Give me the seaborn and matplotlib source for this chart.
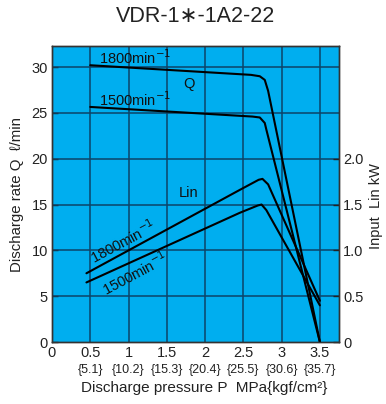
import matplotlib
matplotlib.use("Agg")
import matplotlib.pyplot as plt
import seaborn as sns
import pandas as pd

sns.set_theme(style="white")
plt.rcParams['font.family'] = ['Liberation Sans', 'DejaVu Sans']

# Discharge rate Q (l/min)
q1800_p = [0.5, 2.6, 2.715, 2.78, 2.824, 3.5]
q1800_v = [30.2, 29.15, 29.0, 28.6, 27.4, 0.0]
q1500_p = [0.5, 2.62, 2.715, 2.78, 2.80, 3.5]
q1500_v = [25.65, 24.6, 24.5, 23.9, 23.2, 0.0]
# Input Lin (kW)
lin1800_p = [0.45, 2.454, 2.70, 2.75, 2.824, 3.5]
lin1800_v = [0.75, 1.66, 1.77, 1.78, 1.72, 0.45]
lin1500_p = [0.45, 2.454, 2.69, 2.738, 2.80, 3.5]
lin1500_v = [0.65, 1.41, 1.49, 1.50, 1.44, 0.40]

xticks = [0, 0.5, 1, 1.5, 2, 2.5, 3, 3.5]
xtick_kgf = ["", "{5.1}", "{10.2}", "{15.3}", "{20.4}", "{25.5}", "{30.6}", "{35.7}"]
yticks_left = [0, 5, 10, 15, 20, 25, 30]
yticks_right = [0, 0.5, 1.0, 1.5, 2.0]
yticks_right_lbl = ["0", "0.5", "1.0", "1.5", "2.0"]

fig = plt.figure(figsize=(3.86, 4.04), dpi=100)
ax = fig.add_axes([52/386, 1-342/404, 287/386, 296/404])
ax.set_facecolor("#00AEEF")
grid_c = "#0d4468"
for x in xticks[1:]:
    ax.axvline(x, color=grid_c, lw=1.1, zorder=1)
for y in yticks_left[1:]:
    ax.axhline(y, color=grid_c, lw=1.1, zorder=1)

dq1 = pd.DataFrame({"P": q1800_p, "V": q1800_v})
dq2 = pd.DataFrame({"P": q1500_p, "V": q1500_v})
sns.lineplot(data=dq1, x="P", y="V", ax=ax, color="black", lw=1.5, sort=False, zorder=3)
sns.lineplot(data=dq2, x="P", y="V", ax=ax, color="black", lw=1.5, sort=False, zorder=3)
ax.set_xlim(0, 3.75)
ax.set_ylim(0, 32.3)

ax2 = ax.twinx()
dl1 = pd.DataFrame({"P": lin1800_p, "V": lin1800_v})
dl2 = pd.DataFrame({"P": lin1500_p, "V": lin1500_v})
sns.lineplot(data=dl1, x="P", y="V", ax=ax2, color="black", lw=1.5, sort=False, zorder=3)
sns.lineplot(data=dl2, x="P", y="V", ax=ax2, color="black", lw=1.5, sort=False, zorder=3)
ax2.set_ylim(0, 3.23)
ax2.set_xlim(0, 3.75)

for a in (ax, ax2):
    for s in a.spines.values():
        s.set_color("#333333")
        s.set_linewidth(1.0)

ax.set_xticks(xticks)
ax.set_xticklabels([f"{x:g}" for x in xticks], fontsize=10.5)
for x, k in zip(xticks, xtick_kgf):
    if k:
        ax.text(x, -(370-342)/296, k, transform=ax.get_xaxis_transform(), ha="center",
                va="center", fontsize=9, color="#222222")
ax.set_yticks(yticks_left)
ax.set_yticklabels([str(v) for v in yticks_left], fontsize=10.5)
ax2.set_yticks(yticks_right)
ax2.set_yticklabels(yticks_right_lbl, fontsize=10.5)
ax.tick_params(axis="both", direction="in", length=4, width=1, color="#222222",
               pad=3, labelcolor="#222222")
ax2.tick_params(axis="y", direction="in", length=4, width=1, color="#222222",
                pad=3, labelcolor="#222222")
ax.set_xlabel("")
ax.set_ylabel("")
ax2.set_ylabel("")

fig.text(196/386, 1-16/404, "VDR-1\u2217-1A2-22", ha="center", va="center", fontsize=15.5,
         color="#222222")
fig.text(204/386, 1-388/404, "Discharge pressure P  MPa{kgf/cm\u00b2}", ha="center",
         va="center", fontsize=11, color="#222222")
fig.text(17/386, 1-195/404, "Discharge rate Q  \u2113/min", ha="center", va="center",
         rotation=90, fontsize=10.8, color="#222222")
fig.text(376/386, 1-206/404, "Input  Lin kW", ha="center", va="center",
         rotation=90, fontsize=10.5, color="#222222")

kw = dict(fontsize=10.5, color="#111111", zorder=4)
ax.text(0.62, 31.0, "1800min$^{-1}$", ha="left", va="center", **kw)
ax.text(0.62, 26.4, "1500min$^{-1}$", ha="left", va="center", **kw)
ax.text(1.79, 28.2, "Q", ha="center", va="center", **kw)
ax.text(1.78, 16.3, "Lin", ha="center", va="center", **kw)
ax.text(0.93, 10.9, "1800min$^{-1}$", ha="center", va="center", rotation=28,
        rotation_mode="anchor", **kw)
ax.text(1.08, 7.5, "1500min$^{-1}$", ha="center", va="center", rotation=28,
        rotation_mode="anchor", **kw)

fig.savefig("out.png", dpi=100)
